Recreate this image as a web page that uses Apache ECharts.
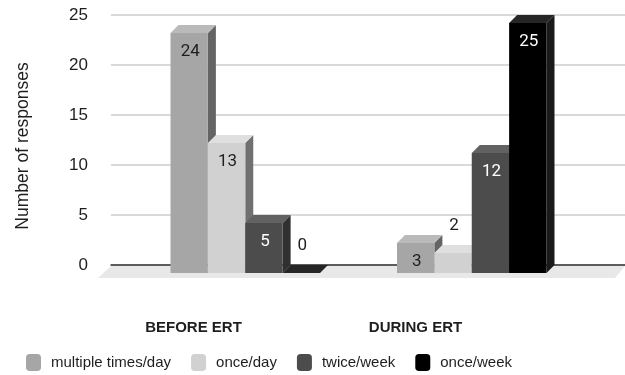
<!DOCTYPE html>
<html>
<head>
<meta charset="utf-8">
<style>
  html, body { margin: 0; padding: 0; background: #ffffff; }
  #chart { width: 625px; height: 375px; }
</style>
<script src="https://cdn.jsdelivr.net/npm/echarts@6/dist/echarts.min.js"></script>
</head>
<body>
<div id="chart"></div>
<script>
// Frequency of use, before and during emergency remote teaching (ERT)
const categories = ['BEFORE ERT', 'DURING ERT'];
const seriesNames = ['multiple times/day', 'once/day', 'twice/week', 'once/week'];
const multipleTimesDay = [24, 3];
const onceDay = [13, 2];
const twiceWeek = [5, 12];
const onceWeek = [0, 25];
const yTicks = [0, 5, 10, 15, 20, 25];

const seriesValues = [multipleTimesDay, onceDay, twiceWeek, onceWeek];

// Shading for each bar: front face, top face, side face, in-bar label colour
const faceColors = [
  { front: '#a6a6a6', top: '#bababa', side: '#646464', text: '#1e1e1e' },
  { front: '#d1d1d1', top: '#dfdfdf', side: '#707070', text: '#1e1e1e' },
  { front: '#4c4c4c', top: '#626262', side: '#303030', text: '#ffffff' },
  { front: '#000000', top: '#262626', side: '#1a1a1a', text: '#ffffff' }
];

const DEPTH = 8;            // 3D extrusion offset in px
const BAR_FRACTION = 0.165; // bar width as a fraction of the category band
const FONT = '"Liberation Sans", Arial, sans-serif';

function barRenderer(idx) {
  const c = faceColors[idx];
  return function (params, api) {
    const cat = api.value(0);
    const v = api.value(1);
    const base = api.coord([cat, 0]);
    const topPt = api.coord([cat, v]);
    const band = api.size([1, 0])[0];
    const bw = band * BAR_FRACTION;
    const fl = base[0] + (idx - 2) * bw;
    const fr = fl + bw;
    const ft = topPt[1] + DEPTH;
    const fb = base[1] + DEPTH;
    const children = [
      { type: 'polygon', shape: { points: [[fr, ft], [fr + DEPTH, ft - DEPTH], [fr + DEPTH, fb - DEPTH], [fr, fb]] },
        style: { fill: c.side } },
      { type: 'rect', shape: { x: fl, y: ft, width: bw, height: fb - ft },
        style: { fill: c.front } },
      { type: 'polygon', shape: { points: [[fl, ft], [fr, ft], [fr + DEPTH, ft - DEPTH], [fl + DEPTH, ft - DEPTH]] },
        style: { fill: c.top } }
    ];
    const inside = (fb - ft) >= 25;
    children.push({
      type: 'text',
      style: {
        text: String(v),
        x: fl + bw / 2 + 1,
        y: inside ? ft + 19 : ft - DEPTH - 19,
        align: 'center',
        verticalAlign: 'middle',
        fill: inside ? c.text : '#1e1e1e',
        font: '17px Roboto, "Liberation Sans", sans-serif'
      }
    });
    return { type: 'group', children: children };
  };
}

const chart = echarts.init(document.getElementById('chart'), null, { renderer: 'canvas' });

const barSeries = seriesNames.map(function (name, i) {
  return {
    name: name,
    type: 'custom',
    xAxisIndex: 1,
    yAxisIndex: 1,
    z: 2,
    itemStyle: { color: faceColors[i].front },
    renderItem: barRenderer(i),
    data: seriesValues[i].map(function (v, k) { return [k, v]; })
  };
});

// Floor slab under the bars
const floorSeries = {
  type: 'custom',
  xAxisIndex: 0,
  yAxisIndex: 0,
  z: 0,
  silent: true,
  legendHoverLink: false,
  renderItem: function (params, api) {
    const cs = params.coordSys;
    const y0 = cs.y + cs.height;
    return {
      type: 'polygon',
      shape: { points: [[cs.x, y0 + 1], [cs.x + cs.width, y0 + 1], [cs.x + cs.width - 10, y0 + 13], [cs.x - 13, y0 + 13]] },
      style: { fill: '#e8e8e8' }
    };
  },
  data: [[0, 0]]
};

const option = {
  animation: false,
  backgroundColor: '#ffffff',
  grid: [
    { left: 111, right: 0, top: 15, bottom: 110 },
    { left: 132, right: 40, top: 15, bottom: 110 },
    { left: 82.5, right: 98.5, top: 15, bottom: 110 }
  ],
  legend: {
    data: seriesNames,
    left: 21,
    top: 349,
    icon: 'roundRect',
    itemWidth: 15,
    itemHeight: 17,
    itemGap: 20,
    textStyle: { fontFamily: FONT, fontSize: 15, color: '#1e1e1e', padding: [0, 0, 0, 5] }
  },
  xAxis: [
    { type: 'category', gridIndex: 0, data: categories, z: 1,
      axisLine: { show: true, lineStyle: { color: '#333333', width: 1.5 } },
      axisTick: { show: false }, axisLabel: { show: false }, splitLine: { show: false } },
    { type: 'category', gridIndex: 1, data: categories, show: false },
    { type: 'category', gridIndex: 2, data: categories,
      axisLine: { show: false }, axisTick: { show: false }, splitLine: { show: false },
      axisLabel: { margin: 55, fontFamily: FONT, fontSize: 15, fontWeight: 'bold', color: '#1e1e1e' } }
  ],
  yAxis: [
    { type: 'value', gridIndex: 0, min: yTicks[0], max: yTicks[yTicks.length - 1], interval: 5,
      name: 'Number of responses', nameLocation: 'middle', nameGap: 79, nameRotate: 90,
      nameTextStyle: { fontFamily: FONT, fontSize: 17.5, color: '#1e1e1e', padding: [0, 12, 0, 0] },
      axisLine: { show: false }, axisTick: { show: false },
      axisLabel: { margin: 23, fontFamily: FONT, fontSize: 17, color: '#1e1e1e' },
      splitLine: { show: true, lineStyle: { color: '#cccccc', width: 1.5 } } },
    { type: 'value', gridIndex: 1, min: 0, max: 25, interval: 5, show: false, splitLine: { show: false } },
    { type: 'value', gridIndex: 2, min: 0, max: 25, interval: 5, show: false, splitLine: { show: false } }
  ],
  series: [floorSeries].concat(barSeries)
};

chart.setOption(option);
</script>
</body>
</html>
